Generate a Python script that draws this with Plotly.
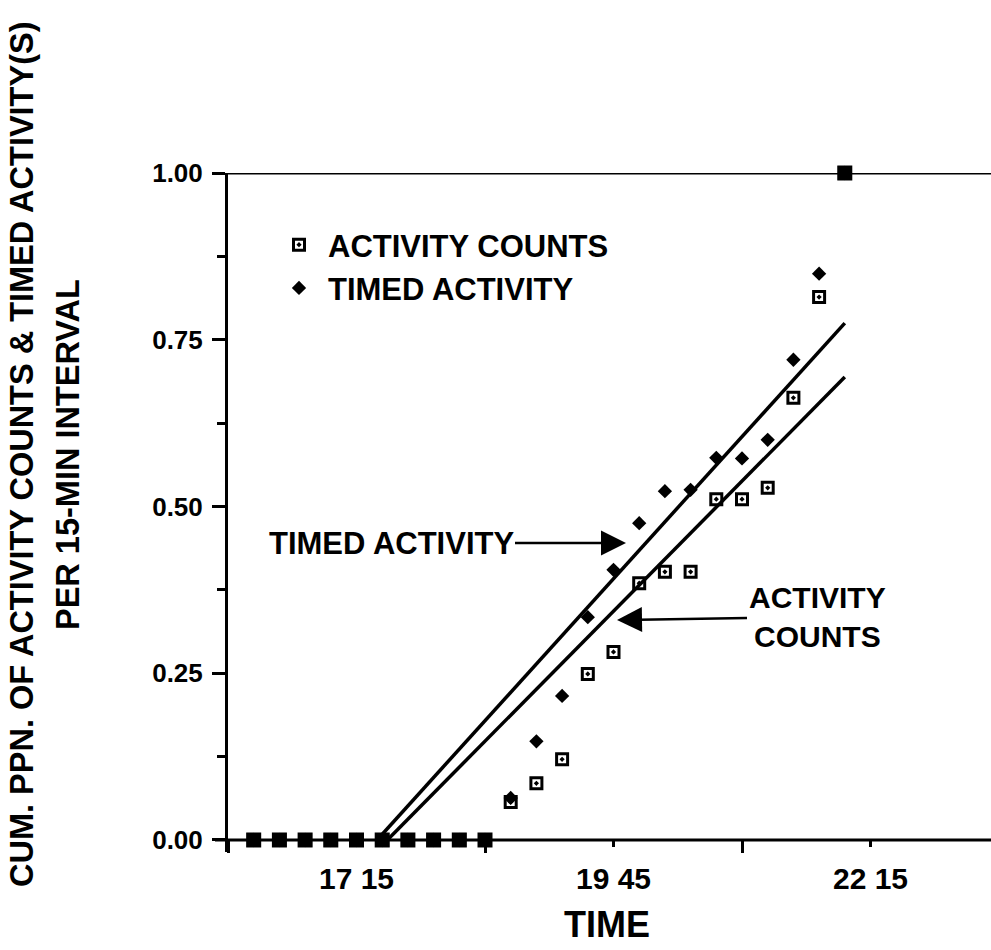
import plotly.graph_objects as go

# ---------------- data ----------------
times = ["16:15", "16:30", "16:45", "17:00", "17:15", "17:30", "17:45", "18:00",
         "18:15", "18:30", "18:45", "19:00", "19:15", "19:30", "19:45", "20:00",
         "20:15", "20:30", "20:45", "21:00", "21:15", "21:30", "21:45", "22:00"]
activity_counts = [0, 0, 0, 0, 0, 0, 0, 0, 0, 0,
                   0.057, 0.085, 0.121, 0.249, 0.282, 0.385, 0.402, 0.402,
                   0.511, 0.511, 0.528, 0.663, 0.814, 1.0]
timed_activity = [0, 0, 0, 0, 0, 0, 0, 0, 0, 0,
                  0.063, 0.148, 0.216, 0.334, 0.405, 0.475, 0.523, 0.525,
                  0.573, 0.572, 0.600, 0.720, 0.849, 1.0]

# fitted trend lines (end points)
timed_fit_times = ["17:27", "22:00"]
timed_fit_values = [0.0, 0.775]
counts_fit_times = ["17:33", "22:00"]
counts_fit_values = [0.0, 0.694]

label_tick_times = ["17:15", "19:45", "22:15"]
label_tick_text = ["17 15", "19 45", "22 15"]
major_tick_times = ["16:00", "18:30", "21:00"]
y_tick_vals = [0.0, 0.25, 0.5, 0.75, 1.0]
y_tick_text = ["0.00", "0.25", "0.50", "0.75", "1.00"]
y_minor_vals = [0.125, 0.375, 0.625, 0.875]

y_title_lines = ["CUM. PPN. OF ACTIVITY COUNTS & TIMED ACTIVITY(S)", "PER 15-MIN INTERVAL"]


def mins(t):
    h, m = t.split(":")
    return int(h) * 60 + int(m)


x = [mins(t) for t in times]
both_x = [xi for xi, a, b in zip(x, activity_counts, timed_activity) if abs(a - b) < 1e-9]
both_y = [a for a, b in zip(activity_counts, timed_activity) if abs(a - b) < 1e-9]

FONT = "Liberation Sans, Arial, Helvetica, sans-serif"
W, H = 991, 950
ML, MR, MT, MB = 228, 0, 173, 98
PW, PH = W - ML - MR, H - MT - MB
x0 = mins("16:00")
px_per_min = 25.7 / 15.0
x1 = x0 + PW / px_per_min
y_lo = -0.018


def px_x(p):
    return (p - ML) / PW


def px_y(p):
    return (H - MB - p) / PH


fig = go.Figure()

fig.add_trace(go.Scatter(x=[mins(t) for t in timed_fit_times], y=timed_fit_values,
                         mode="lines", line=dict(color="black", width=3.5),
                         showlegend=False, hoverinfo="skip", cliponaxis=False))
fig.add_trace(go.Scatter(x=[mins(t) for t in counts_fit_times], y=counts_fit_values,
                         mode="lines", line=dict(color="black", width=3.5),
                         showlegend=False, hoverinfo="skip", cliponaxis=False))

fig.add_trace(go.Scatter(x=x, y=activity_counts, mode="markers", name="ACTIVITY COUNTS",
                         marker=dict(symbol="square-open-dot", size=11, color="black",
                                     line=dict(width=3, color="black")),
                         cliponaxis=False))
fig.add_trace(go.Scatter(x=x, y=timed_activity, mode="markers", name="TIMED ACTIVITY",
                         marker=dict(symbol="diamond", size=11, color="black",
                                     line=dict(width=0)),
                         cliponaxis=False))
fig.add_trace(go.Scatter(x=both_x, y=both_y, mode="markers", showlegend=False,
                         marker=dict(symbol="square", size=15, color="black",
                                     line=dict(width=0)),
                         cliponaxis=False))

# frame lines
fig.add_shape(type="line", xref="paper", yref="y", x0=-13 / PW, x1=1.0, y0=0, y1=0,
              line=dict(color="black", width=3))
fig.add_shape(type="line", xref="paper", yref="y", x0=-13 / PW, x1=1.0, y0=1, y1=1,
              line=dict(color="black", width=3))

# annotations
fig.add_annotation(x=px_x(626), y=px_y(543), xref="paper", yref="paper", ax=-235, ay=0,
                   text="TIMED ACTIVITY", showarrow=True, arrowhead=2, arrowsize=2.0,
                   arrowwidth=2.5, arrowcolor="black",
                   font=dict(family=FONT, size=31, color="black", weight="bold"))
fig.add_annotation(x=px_x(617), y=px_y(620), xref="paper", yref="paper", ax=200, ay=-3,
                   text="ACTIVITY<br>COUNTS", showarrow=True, arrowhead=2, arrowsize=2.0,
                   arrowwidth=2.5, arrowcolor="black", align="center",
                   font=dict(family=FONT, size=30, color="black", weight="bold"))
for line_text, cx in zip(y_title_lines, [22, 68]):
    fig.add_annotation(x=px_x(cx), y=px_y(455), xref="paper", yref="paper",
                       xanchor="center", yanchor="middle", textangle=-90, showarrow=False,
                       text=line_text,
                       font=dict(family=FONT, size=32.5, color="black", weight="bold"))
fig.add_annotation(x=px_x(607), y=px_y(924), xref="paper", yref="paper",
                   xanchor="center", yanchor="middle", showarrow=False, text="TIME",
                   font=dict(family=FONT, size=36, color="black", weight="bold"))

fig.update_layout(
    width=W, height=H, margin=dict(l=ML, r=MR, t=MT, b=MB),
    paper_bgcolor="white", plot_bgcolor="white",
    showlegend=True,
    legend=dict(x=px_x(270), y=px_y(218), xanchor="left", yanchor="top",
                bgcolor="rgba(0,0,0,0)",
                font=dict(family=FONT, size=31, color="black", weight="bold"),
                itemwidth=48, tracegroupgap=0),
    xaxis=dict(range=[x0 - 0.001, x1], showgrid=False, zeroline=False, showline=False,
               anchor="free", position=(-y_lo) / (1.0 - y_lo),
               tickmode="array", tickvals=[mins(t) for t in label_tick_times],
               ticktext=label_tick_text, ticks="outside", ticklen=6, tickwidth=3,
               tickcolor="black", ticklabelstandoff=6,
               tickfont=dict(family=FONT, size=30, color="black", weight="bold"),
               minor=dict(tickmode="array", tickvals=[mins(t) for t in major_tick_times],
                          ticks="outside", ticklen=12, tickwidth=3, tickcolor="black",
                          showgrid=False)),
    yaxis=dict(range=[y_lo, 1.0], showgrid=False, zeroline=False, showline=True,
               linewidth=3, linecolor="black",
               tickmode="array", tickvals=y_tick_vals, ticktext=y_tick_text,
               ticks="outside", ticklen=13, tickwidth=3, tickcolor="black",
               ticklabelstandoff=4,
               tickfont=dict(family=FONT, size=26, color="black", weight="bold"),
               minor=dict(tickmode="array", tickvals=y_minor_vals, ticks="outside",
                          ticklen=8, tickwidth=3, tickcolor="black", showgrid=False)),
)

fig.write_html("out.html")
